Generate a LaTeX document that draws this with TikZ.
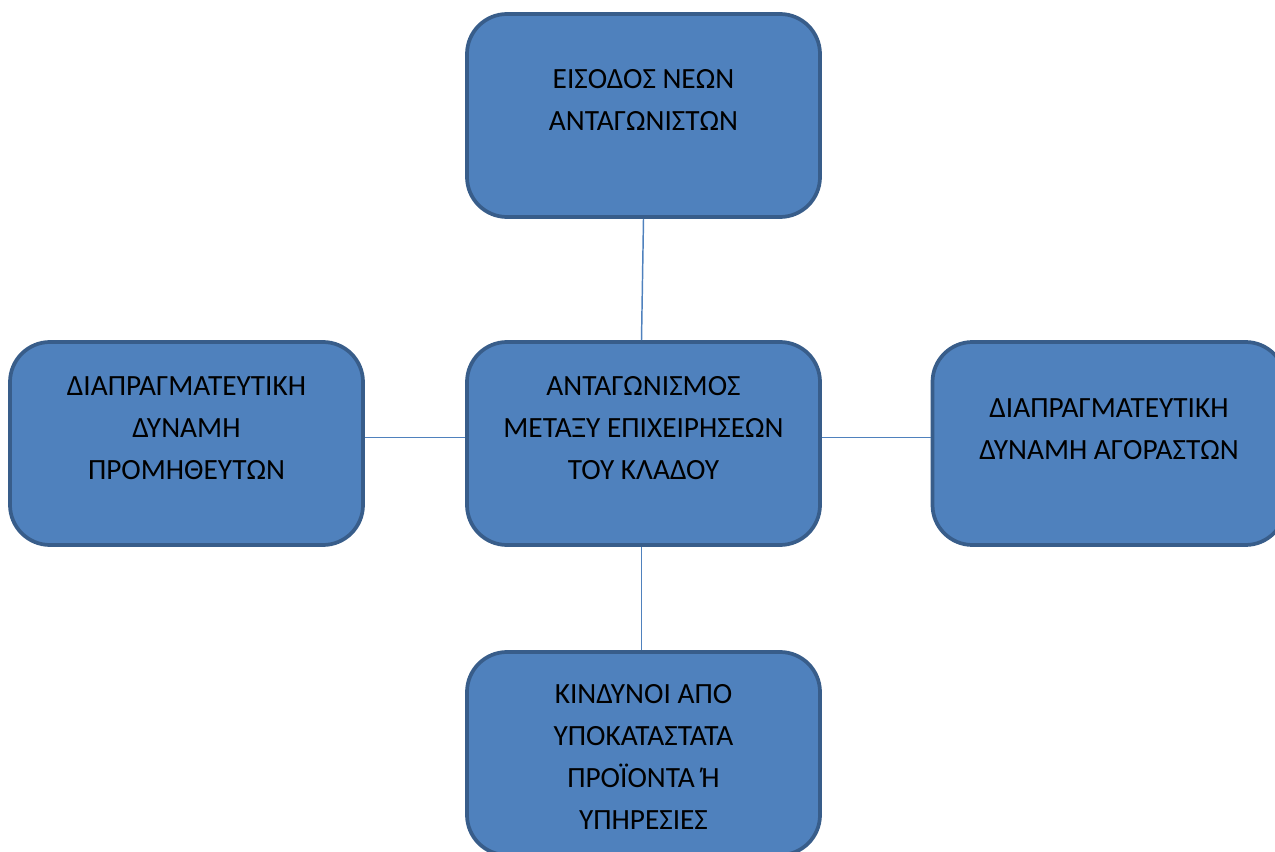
\documentclass[tikz,border=0pt]{standalone}
\usepackage{fontspec}
\setmainfont{Carlito}
\usetikzlibrary{positioning}
\definecolor{boxfill}{HTML}{4F81BD}
\definecolor{boxline}{HTML}{385D8A}

\begin{document}
\begin{tikzpicture}[x=0.75pt,y=-0.75pt]
  \tikzset{
    force/.style={draw=boxline,line width=2.8pt,fill=boxfill,rounded corners=30pt,
      minimum width=353*0.75pt,minimum height=203*0.75pt,inner sep=0pt},
    label text/.style={inner sep=0pt,align=center,font=\fontsize{22}{31.5}\selectfont},
    link/.style={draw=boxfill,line width=1.1pt}
  }
  \useasboundingbox (0,0) rectangle (1275,852);
  % the five boxes
  \node[force] (entry)   at (643.5,115.5) {};
  \node[force] (rivalry) at (643.5,443.5) {};
  \node[force] (supply)  at (186.5,443.5) {};
  \node[force] (buyers)  at (1109,443.5) {};
  \node[force] (subst)   at (643.5,753.5) {};
  % texts
  \node[label text] (entrytext)   at (643.5,100) {ΕΙΣΟΔΟΣ ΝΕΩΝ\\ΑΝΤΑΓΩΝΙΣΤΩΝ};
  \node[label text] (rivalrytext) at (643.5,428) {ΑΝΤΑΓΩΝΙΣΜΟΣ\\ΜΕΤΑΞΥ ΕΠΙΧΕΙΡΗΣΕΩΝ\\ΤΟΥ ΚΛΑΔΟΥ};
  \node[label text] (supplytext)  at (186.5,428) {ΔΙΑΠΡΑΓΜΑΤΕΥΤΙΚΗ\\ΔΥΝΑΜΗ\\ΠΡΟΜΗΘΕΥΤΩΝ};
  \node[label text] (buyerstext)  at (1109,429) {ΔΙΑΠΡΑΓΜΑΤΕΥΤΙΚΗ\\ΔΥΝΑΜΗ ΑΓΟΡΑΣΤΩΝ};
  \node[label text] (substtext)   at (643.5,756.5) {ΚΙΝΔΥΝΟΙ ΑΠΟ\\ΥΠΟΚΑΤΑΣΤΑΤΑ\\ΠΡΟΪΟΝΤΑ Ή\\ΥΠΗΡΕΣΙΕΣ};
  % connectors
  \draw[link] (entry.south) -- ([xshift=-1.5pt]rivalry.north);
  \draw[link] ([xshift=-1.5pt]rivalry.south) -- ([xshift=-1.5pt]subst.north);
  \draw[link] ([yshift=4.5pt]supply.east) -- ([yshift=4.5pt]rivalry.west);
  \draw[link] ([yshift=4.5pt]rivalry.east) -- ([yshift=4.5pt]buyers.west);
\end{tikzpicture}
\end{document}
